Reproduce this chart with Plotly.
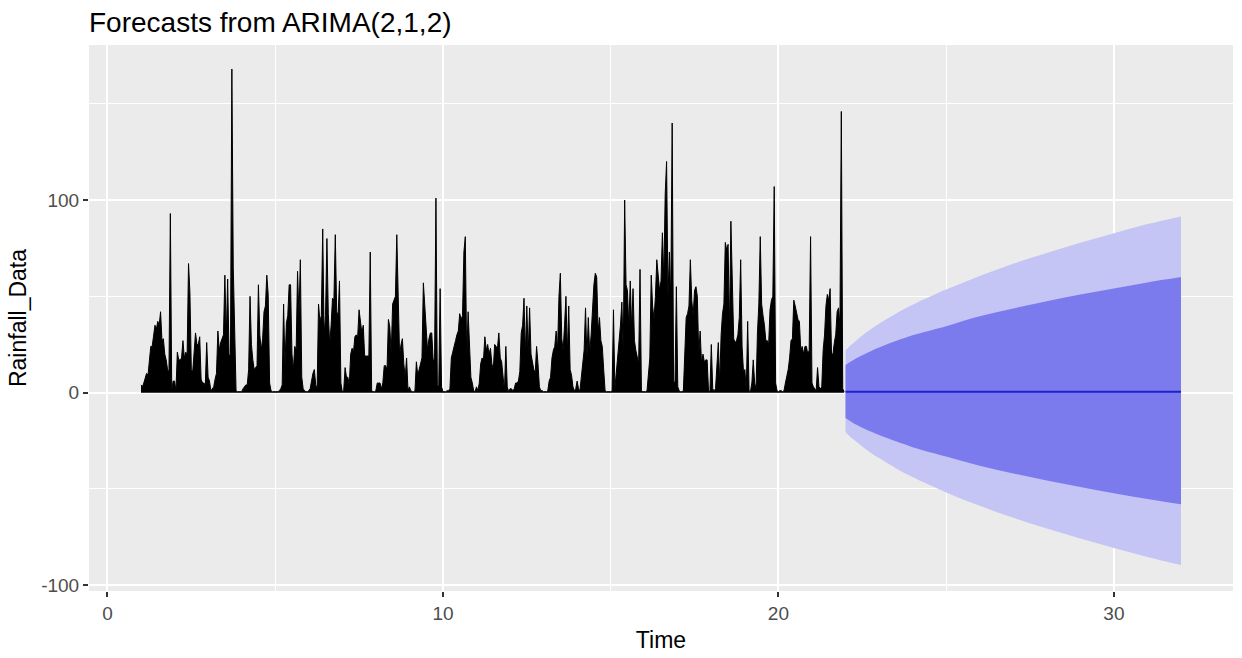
import plotly.graph_objects as go

# ---------------- data ----------------
start_year = 1.0
obs_per_year = 24

rain_y01 = [4, 3, 5, 8, 10, 9, 18, 24, 24, 30, 35, 33, 37, 35, 42, 27, 28, 20, 17, 12, 11, 93, 1, 6]
rain_y02 = [6, 1, 21, 17, 17, 18, 27, 18, 21, 20, 67, 52, 12, 11, 20, 31, 25, 25, 29, 7, 5, 5, 4, 26]
rain_y03 = [8, 6, 1, 2, 3, 7, 10, 32, 22, 26, 28, 30, 61, 29, 59, 19, 20, 168, 65, 22, 1, 0.5, 0.5, 0.5]
rain_y04 = [0.5, 2, 3, 4, 4, 12, 50, 25, 17, 12, 13, 14, 56, 30, 22, 28, 42, 45, 61, 51, 5, 1, 0.5, 0.5]
rain_y05 = [0.5, 0.5, 0.5, 1, 2, 4, 46, 14, 36, 40, 56, 56, 20, 12, 24, 22, 63, 40, 69, 8, 2, 1, 0.5, 0.5]
rain_y06 = [1, 2, 7, 10, 12, 4, 2, 46, 37, 40, 85, 30, 40, 80, 41, 25, 35, 49, 48, 82, 42, 40, 58, 5]
rain_y07 = [0.5, 1, 13, 8, 8, 4, 20, 23, 21, 29, 30, 29, 43, 36, 31, 35, 19, 19, 19, 19, 73, 1, 0.5, 0.5]
rain_y08 = [1, 5, 5, 5, 2, 5, 14, 14, 12, 38, 34, 20, 46, 48, 50, 82, 50, 19, 25, 28, 15, 8, 18, 1]
rain_y09 = [3, 1, 0.5, 0.5, 1, 16, 9, 12.5, 15, 18, 57, 44, 34, 22, 28, 31, 31, 17, 17, 101, 4, 3, 54, 3]
rain_y10 = [0.5, 0.5, 0.5, 1, 1, 2, 18, 21, 25, 27, 30, 32, 41, 38, 40, 73, 81, 17, 42, 20, 8, 5, 1, 0.5]
rain_y11 = [3, 1, 5, 15, 18, 17, 29, 22, 25, 20, 23, 15, 12, 25, 24, 23, 31, 18, 16, 6, 1, 24, 3, 0.5]
rain_y12 = [2, 2, 1, 2, 5, 5, 6, 11, 31, 35, 49, 20, 45, 20, 44, 20, 15, 12, 10, 24, 15, 3, 1, 1]
rain_y13 = [0.5, 0.5, 0.5, 1, 6, 8, 18, 22, 24, 32, 22, 50, 62, 28, 22, 35, 50, 20, 45, 12, 9, 3, 1, 2]
rain_y14 = [6, 2, 1, 8, 16, 22, 44, 18, 39, 20, 30, 46, 56, 62, 60, 32, 39, 27, 24, 12, 1, 0.5, 0.5, 0.5]
rain_y15 = [0.5, 1, 43, 2, 10, 15, 24, 35, 47, 20, 100, 56, 53, 34, 58, 33, 54, 27, 22, 18, 15, 64, 1, 0.5]
rain_y16 = [0.5, 0.5, 1, 8, 18, 61, 45, 38, 50, 69, 60, 53, 58, 83, 59, 103, 120, 50, 73, 48, 140, 6, 5, 55]
rain_y17 = [3, 1, 0.5, 0.5, 1, 20, 39, 41, 45, 69, 48, 40, 53, 55, 50, 20, 32, 15, 20, 16, 17, 17, 1, 0.5]
rain_y18 = [25, 2, 1, 2, 12, 26, 5, 30, 41, 46, 78, 74, 77, 32, 89, 56, 28, 26, 27, 30, 39, 69, 24, 11]
rain_y19 = [12, 1, 37, 1, 0.5, 5, 17, 5, 2, 31, 46, 81, 46, 40, 35, 27, 27, 25, 43, 48, 50, 107, 5, 1]
rain_y20 = [0.5, 1, 1, 0.5, 1, 5, 8, 12, 18, 27, 28, 48, 45, 42, 38, 37, 22, 24, 20, 24, 24, 20, 22, 81]
rain_y21 = [5, 3, 2, 1, 13, 3, 2, 3, 22, 30, 45, 51, 48, 54, 20, 20, 26, 30, 42, 44, 35, 146, 2, 0.5]

fc_time = [22, 22.1, 22.25, 22.5, 22.75, 23, 23.5, 24, 25, 26, 27, 28, 29, 30, 31, 32]
fc_mean = [0.5, 0.5, 0.5, 0.5, 0.5, 0.5, 0.5, 0.5, 0.5, 0.5, 0.5, 0.5, 0.5, 0.5, 0.5, 0.5]
fc_hi80 = [14.4, 15.5, 17.1, 19.4, 21.5, 23.4, 26.8, 29.8, 34.5, 39.6, 43.7, 47.4, 50.9, 54.1, 57.2, 60]
fc_lo80 = [-13.2, -14.4, -16, -18.2, -20.2, -22, -25.3, -28.3, -33.2, -38, -42, -45.6, -49, -52.2, -55.2, -58]
fc_hi95 = [22, 23.7, 26, 29.7, 32.9, 35.8, 41, 45.6, 53.5, 60.6, 66.9, 72.5, 77.8, 82.7, 87.5, 91.5]
fc_lo95 = [-20.5, -22.2, -24.5, -28, -31.2, -34, -39.2, -43.8, -51.8, -58.8, -65, -70.6, -75.8, -80.7, -85.3, -89.5]

x_ticks = [0, 10, 20, 30]
x_tick_labels = ["0", "10", "20", "30"]
x_minor = [5, 15, 25]
y_ticks = [-100, 0, 100]
y_tick_labels = ["-100", "0", "100"]
y_minor = [-50, 50, 150]

# ---------------- build ----------------
rainfall = (rain_y01 + rain_y02 + rain_y03 + rain_y04 + rain_y05 + rain_y06 + rain_y07
            + rain_y08 + rain_y09 + rain_y10 + rain_y11 + rain_y12 + rain_y13 + rain_y14
            + rain_y15 + rain_y16 + rain_y17 + rain_y18 + rain_y19 + rain_y20 + rain_y21)
time = [start_year + i / obs_per_year for i in range(len(rainfall))]

fig = go.Figure()

fig.add_trace(go.Scatter(
    x=time, y=rainfall, mode="lines",
    line=dict(color="black", width=1),
    fill="tozeroy", fillcolor="black",
    name="Rainfall_Data", showlegend=False,
))

# 95% band
fig.add_trace(go.Scatter(
    x=fc_time, y=fc_lo95, mode="lines",
    line=dict(width=0, shape="spline"), showlegend=False, hoverinfo="skip",
))
fig.add_trace(go.Scatter(
    x=fc_time, y=fc_hi95, mode="lines", fill="tonexty", fillcolor="#C4C4F5",
    line=dict(width=0, shape="spline"), showlegend=False, hoverinfo="skip",
))
# 80% band
fig.add_trace(go.Scatter(
    x=fc_time, y=fc_lo80, mode="lines",
    line=dict(width=0, shape="spline"), showlegend=False, hoverinfo="skip",
))
fig.add_trace(go.Scatter(
    x=fc_time, y=fc_hi80, mode="lines", fill="tonexty", fillcolor="#7B7BEE",
    line=dict(width=0, shape="spline"), showlegend=False, hoverinfo="skip",
))
fig.add_trace(go.Scatter(
    x=fc_time, y=fc_mean, mode="lines",
    line=dict(color="#2020D0", width=2), showlegend=False,
))

axis_common = dict(
    showgrid=True, gridcolor="white", gridwidth=2,
    zeroline=False, showline=False,
    ticks="outside", ticklen=5, tickwidth=2, tickcolor="#333333",
    tickfont=dict(family="Liberation Sans", size=19, color="#4D4D4D"),
)

fig.update_layout(
    width=1242, height=658,
    margin=dict(l=89, r=9, t=45, b=62),
    paper_bgcolor="white", plot_bgcolor="#EBEBEB",
    title=dict(text="Forecasts from ARIMA(2,1,2)", x=89 / 1242, xanchor="left",
               xref="container", y=1 - 22 / 658, yanchor="middle",
               font=dict(family="Liberation Sans", size=28, color="black")),
    xaxis=dict(range=[-0.55, 33.55], tickvals=x_ticks, ticktext=x_tick_labels,
               minor=dict(tickvals=x_minor, showgrid=True, gridcolor="white",
                          gridwidth=1, ticks=""),
               title=dict(text="Time", standoff=9,
                          font=dict(family="Liberation Sans", size=23, color="black")),
               **axis_common),
    yaxis=dict(range=[-103, 180.5], tickvals=y_ticks, ticktext=y_tick_labels,
               minor=dict(tickvals=y_minor, showgrid=True, gridcolor="white",
                          gridwidth=1, ticks=""),
               title=dict(text="Rainfall_Data", standoff=8,
                          font=dict(family="Liberation Sans", size=23, color="black")),
               **axis_common),
)

fig.write_html("out.html")
